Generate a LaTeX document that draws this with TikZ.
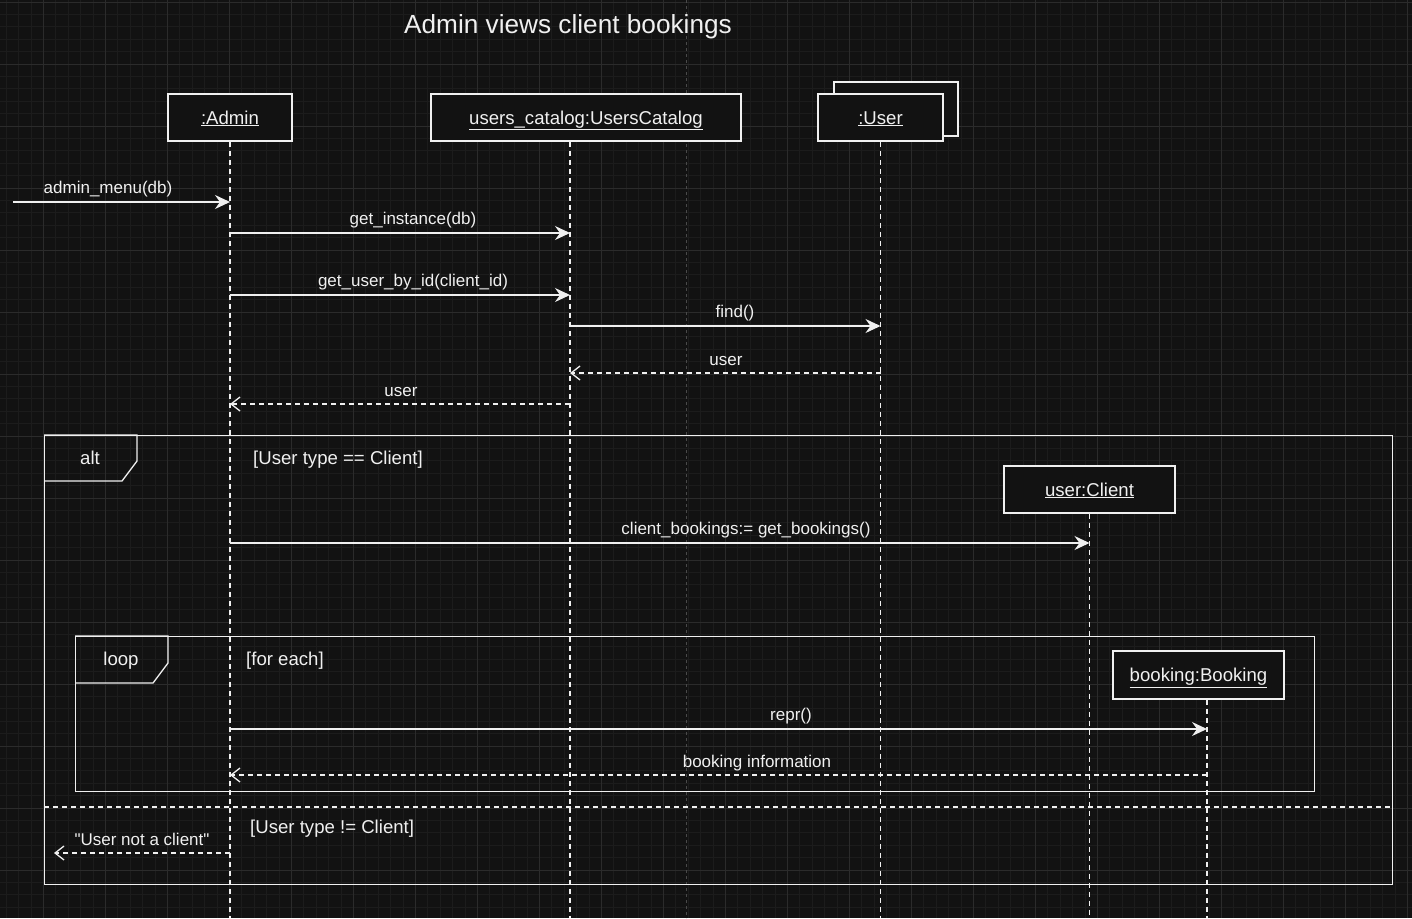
\documentclass[tikz,border=0pt]{standalone}
\usepackage{fontspec}
\setmainfont{Liberation Sans}[Ligatures=TeXOff]
\usepackage{xcolor}
\usetikzlibrary{arrows.meta,positioning}
\definecolor{bg}{HTML}{121212}
\definecolor{fg}{HTML}{F0F0F0}
\definecolor{minorline}{HTML}{1C1C1C}
\definecolor{majorline}{HTML}{2B2B2B}
\definecolor{pageline}{HTML}{4A4A4A}

\begin{document}
\begin{tikzpicture}[
  x=1pt,y=-1pt,
  obj/.style={rectangle,draw=fg,fill=bg,line width=1.3pt,text=fg,inner sep=0pt,
    text height=16.5pt,text depth=3.5pt,font=\fontsize{18.6}{22}\selectfont},
  lifeline/.style={draw=fg,line width=1.3pt,dash pattern=on 5pt off 4pt},
  msg/.style={draw=fg,line width=1.3pt,-{Stealth[length=15pt,width=14pt,inset=5pt]}},
  ret/.style={draw=fg,line width=1.3pt,dash pattern=on 5pt off 4pt,
    -{Straight Barb[length=9pt,width=14pt]}},
  frame/.style={rectangle,draw=fg,line width=1.3pt,inner sep=0pt,anchor=north west},
  tab/.style={draw=fg,line width=1.3pt},
  msgtext/.style={text=fg,inner sep=0pt,anchor=base,font=\fontsize{17}{20}\selectfont},
  guard/.style={text=fg,inner sep=0pt,text height=13.5pt,text depth=3.5pt,
    font=\fontsize{18.6}{22}\selectfont},
]

% canvas and grid
\fill[bg] (0,0) rectangle (1412,918);
\useasboundingbox (0,0) rectangle (1412,918);
\foreach \gx in {6.2,18.6,...,1412} \draw[minorline,line width=0.7pt] (\gx,0) -- (\gx,918);
\foreach \gy in {2,14.4,...,918} \draw[minorline,line width=0.7pt] (0,\gy) -- (1412,\gy);
\foreach \gx in {43.4,105.4,...,1412} \draw[majorline,line width=0.8pt] (\gx,0) -- (\gx,918);
\foreach \gy in {2,64,...,918} \draw[majorline,line width=0.8pt] (0,\gy) -- (1412,\gy);
\draw[pageline,line width=0.8pt,dash pattern=on 3pt off 3pt] (686,0) -- (686,918);

\node[text=fg,font=\fontsize{26.2}{30}\selectfont] (title) at (568,27) {Admin views client bookings};

% frames
\node[frame,minimum width=1348,minimum height=449] (alt) at (44,435) {};
\draw[tab] (alt.north west) -- ++(93,0) -- ++(0,26) -- ++(-15,20) -- ++(-78,0);
\node[guard] (altname) at (90,459) {alt};
\node[guard,anchor=west] (altif) at (253,459) {[User type == Client]};
\coordinate (split) at (0,807);
\draw[tab,dash pattern=on 5pt off 4pt] (alt.west |- split) -- (alt.east |- split);
\node[guard,anchor=west] (altelse) at (250,828) {[User type != Client]};

\node[frame,minimum width=1239,minimum height=155] (loop) at (75,636) {};
\draw[tab] (loop.north west) -- ++(93,0) -- ++(0,27) -- ++(-15,20) -- ++(-78,0);
\node[guard] (loopname) at (121,660) {loop};
\node[guard,anchor=west] (loopif) at (246,660) {[for each]};

% objects and lifelines
\coordinate (bottom) at (0,918);
\node[obj,minimum width=124,minimum height=47] (admin) at (230,117.5) {\underline{:Admin}};
\node[obj,minimum width=310,minimum height=47] (catalog) at (586,117.5) {\underline{users\_catalog:UsersCatalog}};
\node[obj,minimum width=124,minimum height=54] (userback) at (896,109) {};
\node[obj,minimum width=125,minimum height=47] (user) at (880.5,117.5) {\underline{:User}};
\node[obj,minimum width=171,minimum height=47] (client) at (1089.5,489.5) {\underline{user:Client}};
\node[obj,minimum width=171,minimum height=48] (booking) at (1198.5,675) {\underline{booking:Booking}};

\coordinate (catalogL) at ([xshift=-16pt]catalog.south);
\coordinate (bookingL) at ([xshift=8.5pt]booking.south);
\draw[lifeline] (admin.south) -- (admin.south |- bottom);
\draw[lifeline] (catalogL) -- (catalogL |- bottom);
\draw[lifeline] (user.south) -- (user.south |- bottom);
\draw[lifeline] (client.south) -- (client.south |- bottom);
\draw[lifeline] (bookingL) -- (bookingL |- bottom);

% messages
\coordinate (start) at (13,202);
\draw[msg] (start) -- (admin.south |- start);
\node[msgtext] (menu) at (108,193) {admin\_menu(db)};

\coordinate (m1) at (0,233);
\draw[msg] (admin.south |- m1) -- (catalogL |- m1);
\node[msgtext] (instance) at (413,224) {get\_instance(db)};

\coordinate (m2) at (0,295);
\draw[msg] (admin.south |- m2) -- (catalogL |- m2);
\node[msgtext] (byid) at (413,286) {get\_user\_by\_id(client\_id)};

\coordinate (m3) at (0,326);
\draw[msg] (catalogL |- m3) -- (user.south |- m3);
\node[msgtext] (find) at (735,317) {find()};

\coordinate (m4) at (0,373);
\draw[ret] (user.south |- m4) -- (catalogL |- m4);
\node[msgtext] (found) at (726,365) {user};

\coordinate (m5) at (0,404);
\draw[ret] (catalogL |- m5) -- (admin.south |- m5);
\node[msgtext] (gotuser) at (401,396) {user};

\coordinate (m6) at (0,543);
\draw[msg] (admin.south |- m6) -- (client.south |- m6);
\node[msgtext] (getbookings) at (746,534) {client\_bookings:= get\_bookings()};

\coordinate (m7) at (0,729);
\draw[msg] (admin.south |- m7) -- (bookingL |- m7);
\node[msgtext] (repr) at (791,720) {repr()};

\coordinate (m8) at (0,775);
\draw[ret] (bookingL |- m8) -- (admin.south |- m8);
\node[msgtext] (info) at (757,767) {booking information};

\coordinate (out) at (54,853);
\draw[ret] (admin.south |- out) -- (out);
\node[msgtext] (notclient) at (142,845) {"User not a client"};
\end{tikzpicture}
\end{document}
